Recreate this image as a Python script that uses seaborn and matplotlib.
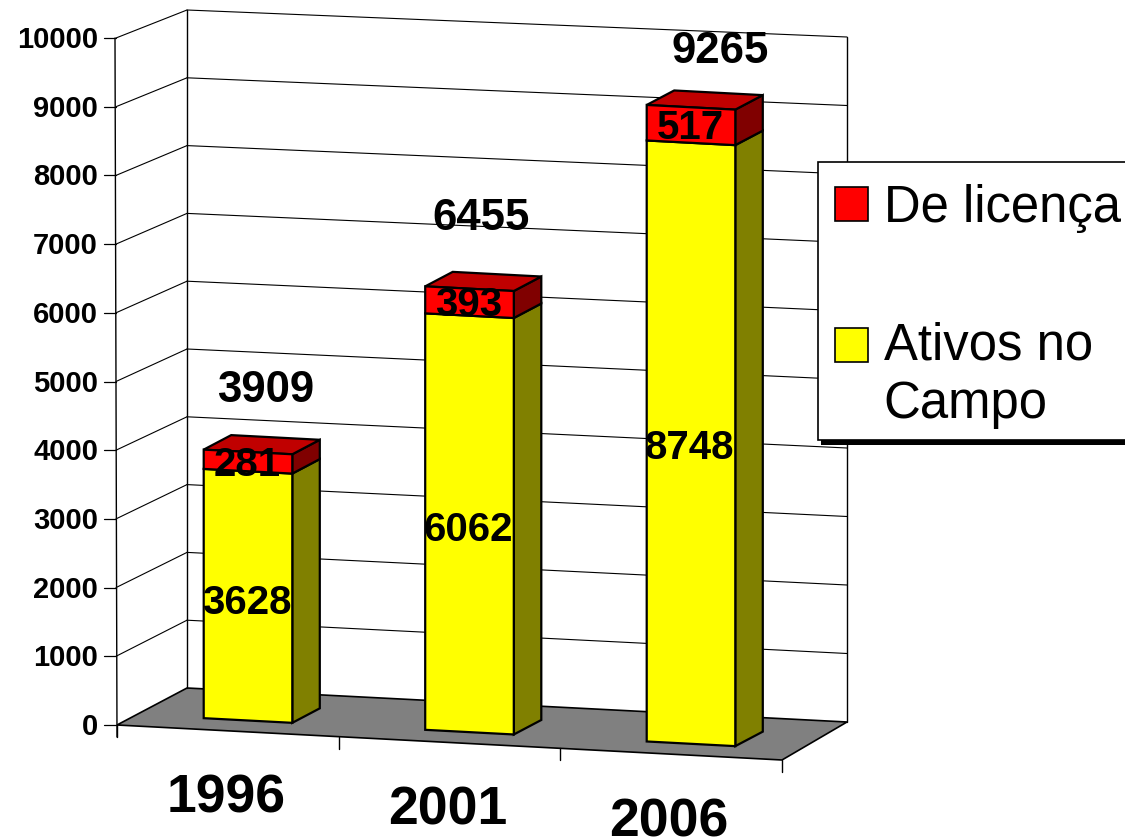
# stacked bars with a hand made 3D look (Ativos no Campo / De licenca)

import matplotlib
matplotlib.use("Agg")
import matplotlib.pyplot as plt
from matplotlib.patches import Patch, Polygon, Rectangle
from matplotlib.transforms import Affine2D
import seaborn as sns

years = ["1996", "2001", "2006"]
ativos = [3628, 6062, 8748]
licenca = [281, 393, 517]
totals = [3909, 6455, 9265]
y_ticks = list(range(0, 11000, 1000))

sns.set_theme(style="white")
plt.rcParams["font.family"] = ["Liberation Sans", "DejaVu Sans"]

fig = plt.figure(figsize=(11.25, 8.4), dpi=100)
ax = fig.add_axes([0, 0, 1, 1])

# seaborn draws the front faces, in category/value units
sns.barplot(x=years, y=ativos, color="#ffff00", saturation=1, width=0.4,
            edgecolor="black", linewidth=1.6, ax=ax)
n_yellow = len(ax.patches)
sns.barplot(x=years, y=licenca, bottom=ativos, color="#ff0000", saturation=1, width=0.4,
            edgecolor="black", linewidth=1.6, ax=ax)
ax.set_xlim(0, 1125)
ax.set_ylim(840, 0)
ax.set_axis_off()

# category/value -> picture pixels, front plane of the bars
slope = 0.0526
unit = 221.5
px_per_val = 0.0687
front_tf = Affine2D.from_values(unit, unit * slope, 0, -px_per_val, 248, 720.5)
depth = (27.5, -14.5)


def floor_front(i):
    # point on the front edge of the floor, i in category units
    return 117 + unit * (i + 0.5), 725 + unit * (i + 0.5) * slope


def val_y(v, base, top):
    return base + (top - base) * v / 10000


# walls and floor
ax.add_patch(Polygon([(117, 725), (187, 688), (847, 722), (782, 760)], closed=True,
                     facecolor="#808080", edgecolor="black", linewidth=1.2, zorder=1))
for v in y_ticks:
    yf = val_y(v, 725, 38)
    yl = val_y(v, 688, 10)
    yr = val_y(v, 722, 37)
    ax.plot([104, 116], [yf, yf], color="black", lw=0.9, zorder=1)
    if v > 0:
        ax.plot([116, 187], [yf, yl], color="black", lw=0.8, zorder=1)
        ax.plot([187, 847], [yl, yr], color="black", lw=0.8, zorder=1)
    ax.text(98, yf + 2, str(v), ha="right", va="center", fontsize=21, fontweight="bold",
            color="black", zorder=2)
ax.plot([117, 115], [737, 38], color="black", lw=1, zorder=1)
ax.plot([187, 187], [688, 10], color="black", lw=1, zorder=1)
ax.plot([847, 847], [722, 37], color="black", lw=1, zorder=1)

for i in range(len(years) + 1):
    xf, yf = floor_front(i - 0.5)
    ax.plot([xf, xf], [yf, yf + 12], color="black", lw=1, zorder=1)
for i, year in enumerate(years):
    xf, yf = floor_front(i)
    ax.text(xf - 2, yf + 82, year, ha="center", va="baseline", fontsize=38.5, fontweight="bold",
            color="black", zorder=2)

# bars: move the seaborn rectangles to the picture plane, add side and top faces
for k, bar in enumerate(ax.patches[:6]):
    bar.set_transform(front_tf + ax.transData)
    bar.set_zorder(4)
    x0, x1 = bar.get_x(), bar.get_x() + bar.get_width()
    y0, y1 = bar.get_y(), bar.get_y() + bar.get_height()
    br = front_tf.transform((x1, y0))
    tr = front_tf.transform((x1, y1))
    tl = front_tf.transform((x0, y1))
    side_col = "#808000" if k < n_yellow else "#800000"
    ax.add_patch(Polygon([br, tr, tr + depth, br + depth], closed=True, facecolor=side_col,
                         edgecolor="black", linewidth=1.6, zorder=3))
    if k >= n_yellow:
        ax.add_patch(Polygon([tl, tr, tr + depth, tl + depth], closed=True, facecolor="#c00000",
                             edgecolor="black", linewidth=1.6, zorder=3))

# value labels
for i in range(len(years)):
    for v, mid, off in [(ativos[i], ativos[i] / 2, [7, 6, 5][i]),
                        (licenca[i], ativos[i] + licenca[i] / 2, 3)]:
        px, py = front_tf.transform((i, mid))
        ax.text(px - 1, py + off, str(v), ha="center", va="center", fontsize=29, fontweight="bold",
                color="black", zorder=5)
    px, py = front_tf.transform((i, totals[i]))
    ax.text(px + [18, 12, 29][i], py + [-61, -70, -56][i], str(totals[i]), ha="center", va="center",
            fontsize=31.5, fontweight="bold", color="black", zorder=5)

# legend, runs off the right side of the picture like the original
ax.add_patch(Rectangle((821, 438), 320, 7, facecolor="black", edgecolor="none", zorder=6))
ax.add_patch(Rectangle((818, 162), 330, 278, facecolor="white", edgecolor="black", linewidth=1.2, zorder=7))
handles = [Patch(facecolor="#ff0000", edgecolor="black", linewidth=1.2, label="De licença"),
           Patch(facecolor="#ffff00", edgecolor="black", linewidth=1.2, label="Ativos no\nCampo")]
leg = ax.legend(handles=handles, loc="upper left", bbox_to_anchor=(817, 166), bbox_transform=ax.transData,
                borderaxespad=0, fontsize=36.6, frameon=False,
                handlelength=0.65, handleheight=0.65, handletextpad=0.3, borderpad=0.36, labelspacing=1.74,
                labelcolor="black")
leg.set_zorder(8)
for t in leg.get_texts():
    t.set_linespacing(1.25)
# the swatch of the two line entry sits on its first line
second = leg.legend_handles[1]
second.set_y(second.get_y() + 23)

fig.savefig("out.png", dpi=100)
